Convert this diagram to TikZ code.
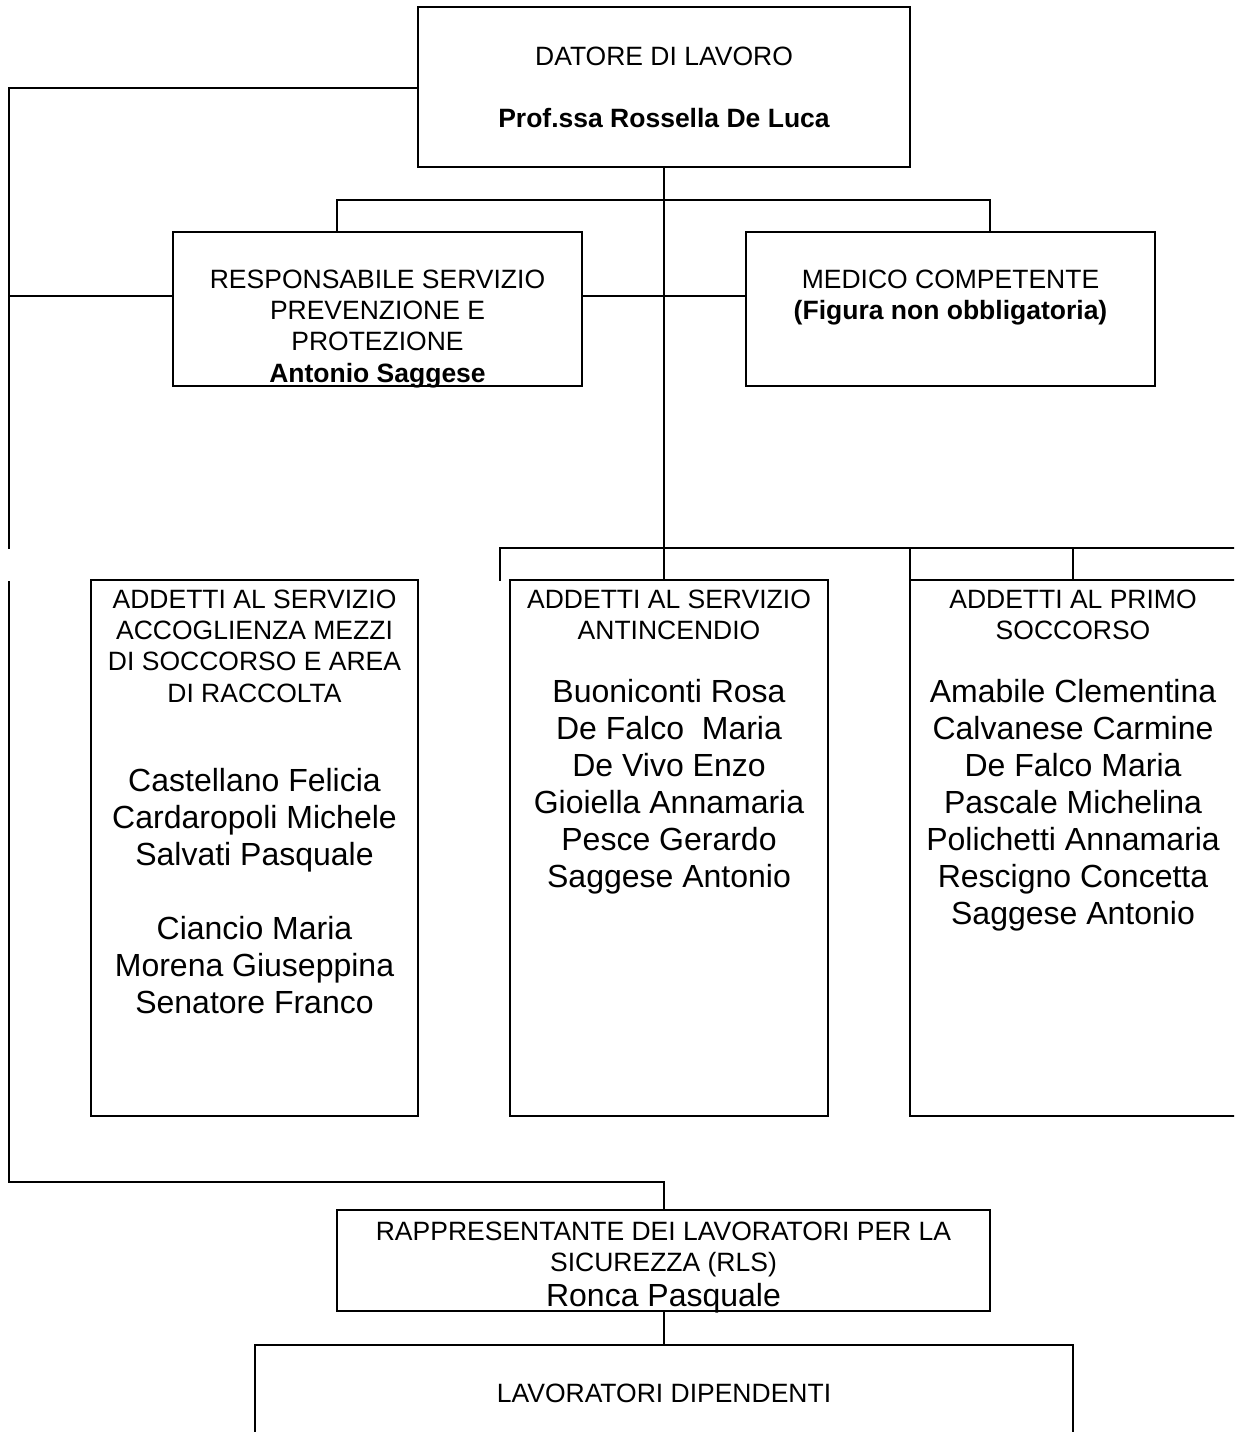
\documentclass[tikz,border=0pt]{standalone}
\usepackage{fontspec}
\setmainfont{Liberation Sans}
\newcommand{\hfnt}{\fontsize{26.5}{31.3}\selectfont}
\newcommand{\nfnt}{\fontsize{32}{37}\selectfont}
\begin{document}
\begin{tikzpicture}[x=1pt,y=-1pt,line width=2.2pt,
  box/.style={draw,line width=2.2pt,inner sep=0pt,outer sep=0pt,fill=none},
  txt/.style={inner sep=0pt,align=center,font=\hfnt,anchor=north},
  ntxt/.style={inner sep=0pt,align=center,font=\nfnt,anchor=north},
  conn/.style={draw,line width=2.2pt,line cap=rect}]
\clip (0,0) rectangle (1234,1432);
\fill[white] (0,0) rectangle (1234,1432);

% boxes
\node[box,minimum width=492pt,minimum height=160pt] (top) at (664,87) {};
\node[box,minimum width=409pt,minimum height=154pt] (rspp) at (377.5,309) {};
\node[box,minimum width=409pt,minimum height=154pt] (med) at (950.5,309) {};
\node[box,minimum width=327pt,minimum height=536pt] (b1) at (254.5,848) {};
\node[box,minimum width=318pt,minimum height=536pt] (b2) at (669,848) {};
\node[box,minimum width=326pt,minimum height=536pt] (b3) at (1073,848) {};
\node[box,minimum width=653pt,minimum height=101pt] (rls) at (663.5,1260.5) {};
\node[box,minimum width=818pt,minimum height=160pt] (lav) at (664,1425) {};

% texts
\node[txt] (t1) at (664,45.5) {DATORE DI LAVORO};
\node[txt] (t2) at (664,107.5) {\bfseries Prof.ssa Rossella De Luca};
\node[txt] (t3) at (377.5,268.5) {RESPONSABILE SERVIZIO\\PREVENZIONE E\\PROTEZIONE\\\bfseries Antonio Saggese};
\node[txt] (t4) at (950.5,268.5) {MEDICO COMPETENTE\\\bfseries (Figura non obbligatoria)};
\node[txt] (t5) at (254.5,588.5) {ADDETTI AL SERVIZIO\\ACCOGLIENZA MEZZI\\DI SOCCORSO E AREA\\DI RACCOLTA};
\node[ntxt] (n1) at (254.5,767) {Castellano Felicia\\Cardaropoli Michele\\Salvati Pasquale\\[37pt]Ciancio Maria\\Morena Giuseppina\\Senatore Franco};
\node[txt] (t6) at (669,588.5) {ADDETTI AL SERVIZIO\\ANTINCENDIO};
\node[ntxt] (n2) at (669,678) {Buoniconti Rosa\\De Falco\ \ Maria\\De Vivo Enzo\\Gioiella Annamaria\\Pesce Gerardo\\Saggese Antonio};
\node[txt] (t7) at (1073,588.5) {ADDETTI AL PRIMO\\SOCCORSO};
\node[ntxt] (n3) at (1073,678) {Amabile Clementina\\Calvanese Carmine\\De Falco Maria\\Pascale Michelina\\Polichetti Annamaria\\Rescigno Concetta\\Saggese Antonio};
\node[txt] (t8) at (663.5,1220.5) {RAPPRESENTANTE DEI LAVORATORI PER LA\\SICUREZZA (RLS)};
\node[ntxt] (t9) at (663.5,1282) {Ronca Pasquale};
\node[txt] (t10) at (664,1382.5) {LAVORATORI DIPENDENTI};

% junction coordinates
\coordinate (L1) at (9,88);
\coordinate (L2) at (9,548);
\coordinate (L3) at (9,582);
\coordinate (L4) at (9,1182);
\coordinate (L5) at (664,1182);
\coordinate (J296) at (9,296);
\coordinate (BL) at (337,200);
\coordinate (BR) at (990,200);
\coordinate (C548) at (664,548);
\coordinate (H0) at (500,548);
\coordinate (H1) at (500,580);
\coordinate (HE) at (1240,548);
\coordinate (H3) at (910,548);
\coordinate (H4) at (1073,548);

% connectors
\draw[conn] (top.west |- L1) -- (L1) -- (L2);
\draw[conn] (L3) -- (L4) -- (L5) -- (L5 |- rls.north);
\draw[conn] (J296) -- (rspp.west |- J296);
\draw[conn] (rspp.east |- J296) -- (med.west |- J296);
\draw[conn] (BL |- rspp.north) -- (BL) -- (BR) -- (BR |- med.north);
\draw[conn] (top.south -| C548) -- (C548);
\draw[conn] (H1) -- (H0) -- (HE);
\draw[conn] (C548) -- (C548 |- b2.north);
\draw[conn] (H3) -- (H3 |- b3.north);
\draw[conn] (H4) -- (b3.north);
\draw[conn] (rls.south -| lav.north) -- (lav.north);
\end{tikzpicture}
\end{document}
